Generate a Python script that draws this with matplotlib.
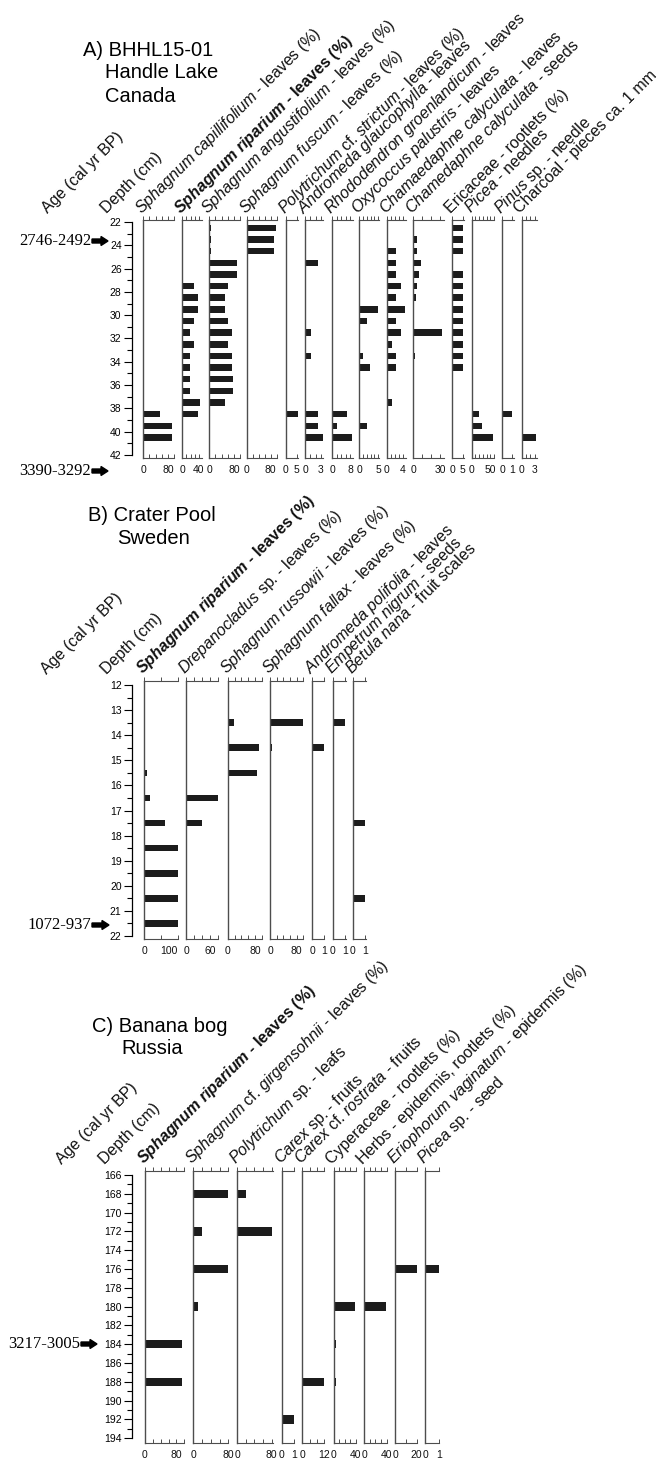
import matplotlib
matplotlib.use('Agg')
import matplotlib.pyplot as plt
import numpy as np
from matplotlib.transforms import IdentityTransform
from matplotlib.patches import FancyArrow

plt.rcParams['font.family'] = ['Liberation Sans', 'DejaVu Sans']
plt.rcParams['mathtext.fontset'] = 'custom'
plt.rcParams['mathtext.rm'] = 'Liberation Sans'
plt.rcParams['mathtext.it'] = 'Liberation Sans:italic'
plt.rcParams['mathtext.bf'] = 'Liberation Sans:bold'
try:
    plt.rcParams['mathtext.bfit'] = 'Liberation Sans:italic:bold'
    HAS_BFIT = True
except Exception:
    HAS_BFIT = False

# ---------------- DATA ----------------
# Site A: BHHL15-01, Handle Lake, Canada
A_depth = [22.5, 23.5, 24.5, 25.5, 26.5, 27.5, 28.5, 29.5, 30.5, 31.5,
           32.5, 33.5, 34.5, 35.5, 36.5, 37.5, 38.5, 39.5, 40.5]
A_capillifolium = [0, 0, 0, 0, 0, 0, 0, 0, 0, 0, 0, 0, 0, 0, 0, 0, 54, 94, 94]
A_riparium = [0, 0, 0, 0, 0, 28, 38, 38, 28, 18, 28, 18, 18, 18, 18, 42, 38, 0, 0]
A_angustifolium = [5, 5, 5, 91, 91, 62, 52, 52, 62, 73, 62, 73, 73, 76, 76, 52, 0, 0, 0]
A_fuscum = [97, 92, 92, 4, 0, 0, 0, 0, 0, 0, 0, 0, 0, 0, 0, 0, 0, 0, 0]
A_polytrichum = [0, 0, 0, 0, 0, 0, 0, 0, 0, 0, 0, 0, 0, 0, 0, 0, 5.5, 0, 0]
A_andromeda = [0, 0, 0, 2.5, 0, 0, 0, 0, 0, 1.1, 0, 1.1, 0, 0, 0, 0, 2.5, 2.5, 3.4]
A_rhododendron = [0, 0, 0, 0, 0, 0, 0, 0, 0, 0, 0, 0, 0, 0, 0, 0, 6.6, 2.2, 9.0]
A_oxycoccus = [0, 0, 0, 0, 0, 0, 0, 5.1, 2.0, 0, 0, 0.9, 2.9, 0, 0, 0, 0, 2.0, 0]
A_cham_leaves = [0, 0, 2.3, 2.3, 2.3, 3.5, 2.3, 4.4, 2.3, 3.5, 1.2, 2.3, 2.3, 0, 0, 1.2, 0, 0, 0]
A_cham_seeds = [0, 4.5, 4.5, 8.7, 6.4, 4.5, 3, 0, 0, 32, 0, 1.5, 0, 0, 0, 0, 0, 0, 0]
A_ericaceae = [5, 5, 5, 0, 5, 5, 5, 5, 5, 5, 5, 5, 5, 0, 0, 0, 0, 0, 0]
A_picea = [0, 0, 0, 0, 0, 0, 0, 0, 0, 0, 0, 0, 0, 0, 0, 0, 19.7, 28.5, 56]
A_pinus = [0, 0, 0, 0, 0, 0, 0, 0, 0, 0, 0, 0, 0, 0, 0, 0, 1, 0, 0]
A_charcoal = [0, 0, 0, 0, 0, 0, 0, 0, 0, 0, 0, 0, 0, 0, 0, 0, 0, 0, 3.3]

# Site B: Crater Pool, Sweden
B_depth = [13.5, 14.5, 15.5, 16.5, 17.5, 18.5, 19.5, 20.5, 21.5]
B_riparium = [0, 0, 8, 18, 62, 100, 100, 100, 100]
B_drepanocladus = [0, 0, 0, 80, 39, 0, 0, 0, 0]
B_russowii = [18, 92, 85, 0, 0, 0, 0, 0, 0]
B_fallax = [98, 5, 0, 0, 0, 0, 0, 0, 0]
B_andromeda = [0, 1, 0, 0, 0, 0, 0, 0, 0]
B_empetrum = [1, 0, 0, 0, 0, 0, 0, 0, 0]
B_betula = [0, 0, 0, 0, 1, 0, 0, 1, 0]

# Site C: Banana bog, Russia
C_depth = [168, 172, 176, 180, 184, 188, 192]
C_riparium = [0, 0, 0, 0, 93, 93, 0]
C_girgensohnii = [79, 21, 79, 11, 0, 0, 0]
C_polytrichum = [21, 81, 0, 0, 0, 0, 0]
C_carex_sp = [0, 0, 0, 0, 0, 0, 1]
C_carex_rostrata = [0, 0, 0, 0, 0, 12, 0]
C_cyperaceae = [0, 0, 0, 39, 4, 4, 0]
C_herbs = [0, 0, 0, 38, 0, 0, 0]
C_eriophorum = [0, 0, 20, 0, 0, 0, 0]
C_picea = [0, 0, 1, 0, 0, 0, 0]

# Age labels
A_ages = ['2746-2492', '3390-3292']
B_ages = ['1072-937']
C_ages = ['3217-3005']

BOLDRIP = (r"$\mathbfit{Sphagnum\ riparium}$ - leaves (%)" if HAS_BFIT
           else r"$\mathbf{Sphagnum\ riparium}$ - leaves (%)")

# ---------------- LAYOUT ----------------
W, H = 669, 1458
fig = plt.figure(figsize=(W / 100, H / 100), dpi=100)

BAR = '#1c1c1c'
LINE = '#4d4d4d'
HFS = 11.5   # header font size
TFS = 7.5    # tick font size
TTL = 14.5   # title font size


def fx(x):
    return x / W


def fy(y):
    return 1 - y / H


def panel(left, right, top, bot, ylim, depths, values, xmax, step, lab, bar_h,
          label, bold=False, end_ha='center'):
    ax = fig.add_axes([fx(left), fy(bot), (right - left) / W, (bot - top) / H])
    d = [dd for dd, v in zip(depths, values) if v > 0]
    v = [vv for vv in values if vv > 0]
    ax.barh(d, v, height=bar_h, color=BAR, linewidth=0)
    ax.set_xlim(0, xmax)
    ax.set_ylim(*ylim)
    ticks = np.arange(0, xmax + 1e-9, step)
    labels = []
    for t in ticks:
        if abs(t) < 1e-9:
            labels.append('0')
        elif abs(t - lab) < 1e-9:
            labels.append('%g' % lab)
        else:
            labels.append('')
    ax.set_xticks(ticks)
    ax.set_xticklabels(labels)
    for tl, s in zip(ax.get_xticklabels(), labels):
        if s not in ('', '0'):
            tl.set_ha(end_ha)
    ax.set_yticks([])
    for s in ['right', 'top']:
        ax.spines[s].set_visible(False)
    ax.spines['left'].set_color(LINE)
    ax.spines['left'].set_linewidth(1.0)
    ax.spines['bottom'].set_color(LINE)
    ax.spines['bottom'].set_linewidth(0.8)
    ax.tick_params(axis='x', direction='in', length=3, width=0.7, color=LINE,
                   labelsize=TFS, pad=5, labelcolor='#111111')
    sec = ax.secondary_xaxis('top')
    sec.set_xticks(ticks)
    sec.set_xticklabels([])
    sec.tick_params(axis='x', direction='out', length=3, width=0.7, color=LINE)
    sec.spines['top'].set_color(LINE)
    sec.spines['top'].set_linewidth(0.8)
    ax.patch.set_alpha(0)
    fig.text(fx(left - 1.5), fy(top - 6), label, rotation=45, rotation_mode='anchor',
             ha='left', va='baseline', fontsize=HFS,
             fontweight='bold' if bold else 'normal', color='#111111')
    return ax


def depth_axis(top, bot, ylim, d0, d1, major, minor, label_x, age_x):
    ax = fig.add_axes([fx(132), fy(bot), 2 / W, (bot - top) / H])
    ax.set_ylim(*ylim)
    for s in ['right', 'top', 'bottom']:
        ax.spines[s].set_visible(False)
    ax.spines['left'].set_bounds(d0, d1)
    ax.spines['left'].set_color('black')
    ax.spines['left'].set_linewidth(0.9)
    ax.set_xticks([])
    ax.set_yticks(np.arange(d0, d1 + 1e-9, major))
    ax.set_yticks(np.arange(d0, d1 + 1e-9, minor), minor=True)
    ax.yaxis.set_major_formatter(matplotlib.ticker.FormatStrFormatter('%g'))
    ax.tick_params(axis='y', which='major', length=6, width=0.8, labelsize=TFS, pad=1.5)
    ax.tick_params(axis='y', which='minor', length=3.5, width=0.8)
    ax.patch.set_alpha(0)
    fig.text(fx(label_x), fy(top - 6), 'Depth (cm)', rotation=45, rotation_mode='anchor',
             ha='left', va='baseline', fontsize=HFS, color='#111111')
    fig.text(fx(age_x), fy(top - 6), 'Age (cal yr BP)', rotation=45, rotation_mode='anchor',
             ha='left', va='baseline', fontsize=HFS, color='#111111')
    return ax


def age_arrow(text, x_end, y, tip):
    fig.text(fx(x_end), fy(y), text, ha='right', va='center', fontsize=12,
             family='Liberation Serif', color='black')
    arr = FancyArrow(x_end + 1, H - y, tip - x_end - 1, 0, width=4, head_width=9,
                     head_length=7, length_includes_head=True, color='black',
                     transform=IdentityTransform())
    fig.add_artist(arr)


def title(lines, x1, x2, y1, dy):
    fig.text(fx(x1), fy(y1), lines[0], ha='left', va='center', fontsize=TTL)
    for i, ln in enumerate(lines[1:]):
        fig.text(fx(x2), fy(y1 + dy * (i + 1)), ln, ha='left', va='center', fontsize=TTL)


# ---- Panel A ----
A_top, A_bot = 220, 458
A_ylim = (42.26, 21.83)
A_specs = [
    (143.3, 174.0, A_capillifolium, 100, 20, 80, r"$\mathit{Sphagnum\ capillifolium}$ - leaves (%)", False),
    (182.3, 201.7, A_riparium, 46.5, 10, 40, BOLDRIP, True),
    (209.3, 240.0, A_angustifolium, 100, 20, 80, r"$\mathit{Sphagnum\ angustifolium}$ - leaves (%)", False),
    (247.0, 276.7, A_fuscum, 100, 20, 80, r"$\mathit{Sphagnum\ fuscum}$ - leaves (%)", False),
    (285.7, 298.3, A_polytrichum, 5.6, 5, 5, r"$\mathit{Polytrichum}$ cf. $\mathit{strictum}$ - leaves (%)", False),
    (305.3, 323.3, A_andromeda, 3.5, 1, 3, r"$\mathit{Andromeda\ glaucophylla}$ - leaves", False),
    (332.3, 352.7, A_rhododendron, 9.2, 2, 8, r"$\mathit{Rhododendron\ groenlandicum}$ - leaves", False),
    (359.3, 379.3, A_oxycoccus, 5.35, 1, 5, r"$\mathit{Oxycoccus\ palustris}$ - leaves", False),
    (386.7, 405.7, A_cham_leaves, 4.66, 1, 4, r"$\mathit{Chamaedaphne\ calyculata}$ - leaves", False),
    (413.3, 444.0, A_cham_seeds, 34.5, 10, 30, r"$\mathit{Chamedaphne\ calyculata}$ - seeds", False),
    (452.0, 464.0, A_ericaceae, 5.5, 5, 5, "Ericaceae - rootlets (%)", False),
    (471.7, 494.0, A_picea, 60, 10, 50, r"$\mathit{Picea}$ - needles", False),
    (502.0, 514.0, A_pinus, 1.2, 1, 1, r"$\mathit{Pinus}$ sp. - needle", False),
    (521.7, 536.7, A_charcoal, 3.5, 1, 3, "Charcoal - pieces ca. 1 mm", False),
]
for l, r, vals, xm, st, lb, lab, bd in A_specs:
    panel(l, r, A_top, A_bot, A_ylim, A_depth, vals, xm, st, lb, 0.55, lab, bd)
depth_axis(A_top, A_bot, A_ylim, 22, 42, 2, 1, 107, 48)
age_arrow(A_ages[0], 91, 241, 108)
age_arrow(A_ages[1], 91, 471, 108)
title(['A) BHHL15-01', 'Handle Lake', 'Canada'], 83, 105, 50, 23)

# ---- Panel B ----
B_top, B_bot = 680.7, 939.3
B_ylim = (22.13, 11.83)
B_specs = [
    (144.0, 177.7, B_riparium, 100, 50, 100, BOLDRIP, True, 'right'),
    (186.0, 218.3, B_drepanocladus, 80, 20, 60, r"$\mathit{Drepanocladus}$ sp. - leaves (%)", False, 'center'),
    (227.7, 261.7, B_russowii, 100, 20, 80, r"$\mathit{Sphagnum\ russowii}$ - leaves (%)", False, 'center'),
    (270.0, 303.3, B_fallax, 100, 20, 80, r"$\mathit{Sphagnum\ fallax}$ - leaves (%)", False, 'center'),
    (312.0, 324.3, B_andromeda, 1.05, 1, 1, r"$\mathit{Andromeda\ polifolia}$ - leaves", False, 'center'),
    (333.0, 345.7, B_empetrum, 1.05, 1, 1, r"$\mathit{Empetrum\ nigrum}$ - seeds", False, 'center'),
    (353.0, 366.0, B_betula, 1.05, 1, 1, r"$\mathit{Betula\ nana}$ - fruit scales", False, 'center'),
]
for l, r, vals, xm, st, lb, lab, bd, ea in B_specs:
    panel(l, r, B_top, B_bot, B_ylim, B_depth, vals, xm, st, lb, 0.26, lab, bd, ea)
depth_axis(B_top, B_bot, B_ylim, 12, 22, 1, 0.5, 107, 47)
age_arrow(B_ages[0], 91, 925, 109)
title(['B) Crater Pool', 'Sweden'], 88, 117, 516, 22)

# ---- Panel C ----
C_top, C_bot = 1170.7, 1442.7
C_ylim = (194.47, 165.54)
C_specs = [
    (145.0, 184.3, C_riparium, 100, 20, 80, BOLDRIP, True),
    (193.3, 228.3, C_girgensohnii, 80, 20, 80, r"$\mathit{Sphagnum}$ cf. $\mathit{girgensohnii}$ - leaves (%)", False),
    (237.3, 272.5, C_polytrichum, 82, 20, 80, r"$\mathit{Polytrichum}$ sp. - leafs", False),
    (281.7, 294.3, C_carex_sp, 1.0, 1, 1, r"$\mathit{Carex}$ sp. - fruits", False),
    (302.3, 324.3, C_carex_rostrata, 12, 4, 12, r"$\mathit{Carex}$ cf. $\mathit{rostrata}$ - fruits", False),
    (333.7, 356.0, C_cyperaceae, 40, 10, 40, "Cyperaceae - rootlets (%)", False),
    (364.0, 386.7, C_herbs, 40, 10, 40, "Herbs - epidermis, rootlets (%)", False),
    (395.3, 416.7, C_eriophorum, 20, 10, 20, r"$\mathit{Eriophorum\ vaginatum}$ - epidermis (%)", False),
    (425.3, 439.3, C_picea, 1.0, 1, 1, r"$\mathit{Picea}$ sp. - seed", False),
]
for l, r, vals, xm, st, lb, lab, bd in C_specs:
    panel(l, r, C_top, C_bot, C_ylim, C_depth, vals, xm, st, lb, 0.9, lab, bd)
depth_axis(C_top, C_bot, C_ylim, 166, 194, 2, 1, 105, 62)
age_arrow(C_ages[0], 80, 1344, 97)
title(['C) Banana bog', 'Russia'], 92, 121, 1027, 22)

fig.savefig('out.png', dpi=100)
